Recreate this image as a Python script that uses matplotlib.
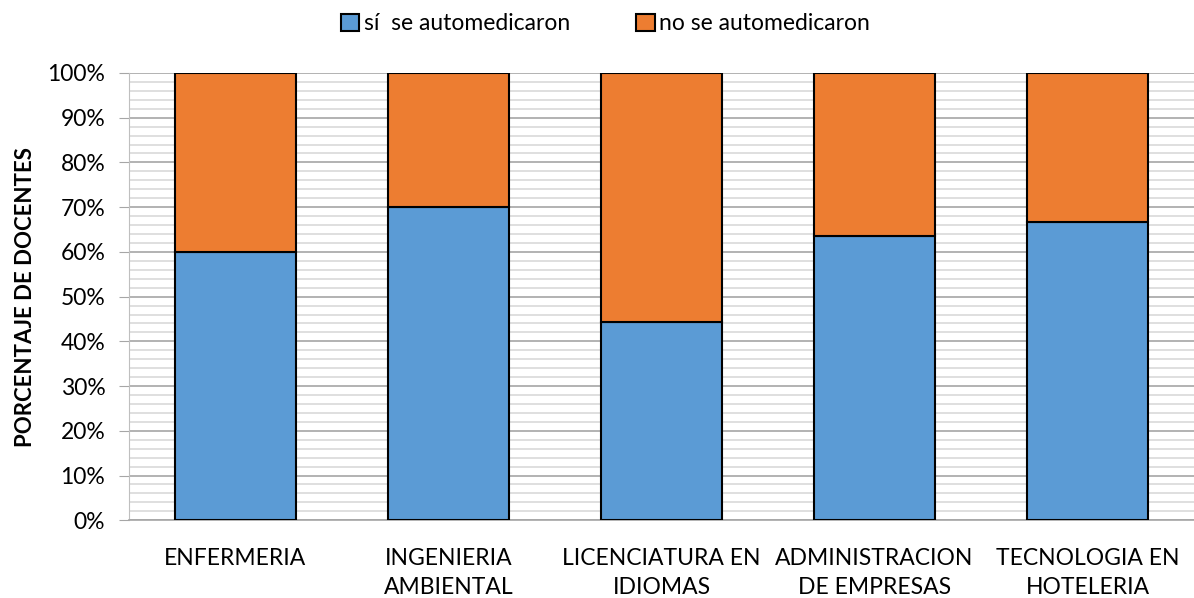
import numpy as np
import matplotlib.pyplot as plt
from matplotlib.ticker import MultipleLocator, PercentFormatter

plt.rcParams['font.family'] = ['Lato', 'DejaVu Sans']

categories = ['ENFERMERIA', 'INGENIERIA\nAMBIENTAL', 'LICENCIATURA EN\nIDIOMAS',
              'ADMINISTRACION\nDE EMPRESAS', 'TECNOLOGIA EN\nHOTELERIA']
si = [60.0, 70.0, 44.4, 63.6, 66.7]
no = [100 - v for v in si]

blue = '#5b9bd5'
orange = '#ed7d31'

fig = plt.figure(figsize=(11.94, 5.98), dpi=100)
ax = fig.add_axes([0.108, 0.13, 0.892, 0.748])

x = np.arange(len(categories))
ax.bar(x, si, width=0.565, color=blue, edgecolor='black', linewidth=1.5,
       label='sí  se automedicaron', zorder=3)
ax.bar(x, no, width=0.565, bottom=si, color=orange, edgecolor='black', linewidth=1.5,
       label='no se automedicaron', zorder=3)

ax.set_xlim(-0.5, len(categories) - 0.5)
ax.set_ylim(0, 100)
ax.yaxis.set_major_locator(MultipleLocator(10))
ax.yaxis.set_minor_locator(MultipleLocator(2))
ax.yaxis.set_major_formatter(PercentFormatter(decimals=0))
ax.grid(axis='y', which='major', color='#a6a6a6', linewidth=1.2, zorder=0)
ax.grid(axis='y', which='minor', color='#d9d9d9', linewidth=1.2, zorder=0)

for s in ['top', 'right']:
    ax.spines[s].set_visible(False)
ax.spines['left'].set_color('#bfbfbf')
ax.spines['bottom'].set_color('#a6a6a6')
ax.spines['bottom'].set_linewidth(1.2)

ax.set_xticks(x)
ax.set_xticklabels(categories, fontsize=16.5, linespacing=1.45)
ax.tick_params(axis='x', length=0, pad=20)
ax.tick_params(axis='y', which='major', length=7, color='#a6a6a6', labelsize=16.5, pad=10)
ax.tick_params(axis='y', which='minor', length=0)

ax.set_ylabel('PORCENTAJE DE DOCENTES', fontsize=16, fontweight='bold', labelpad=8)

fig.legend(loc='upper center', bbox_to_anchor=(0.507, 1.012), ncol=2, frameon=False,
           fontsize=16.5, handlelength=0.8, handleheight=0.8, handletextpad=0.2,
           columnspacing=2.9)

fig.savefig('out.png', dpi=100)
